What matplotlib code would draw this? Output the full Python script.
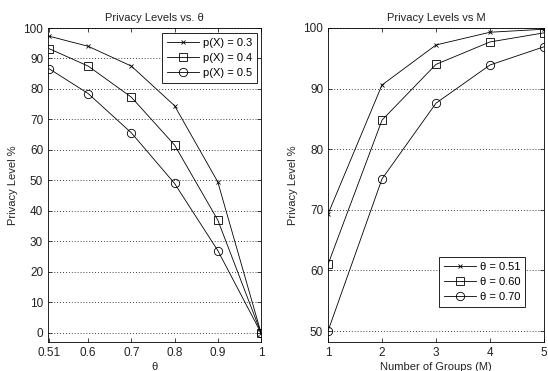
import matplotlib
matplotlib.use("Agg")
import matplotlib.pyplot as plt

plt.rcParams['font.family'] = ['Liberation Sans', 'DejaVu Sans']
plt.rcParams['font.size'] = 8

theta = [0.51, 0.6, 0.7, 0.8, 0.9, 1.0]
theta_ticks = ["0.51", "0.6", "0.7", "0.8", "0.9", "1"]
p03 = [97.3, 94.0, 87.5, 74.5, 49.5, 0.0]
p04 = [93.2, 87.5, 77.3, 61.6, 37.0, 0.0]
p05 = [86.6, 78.5, 65.6, 49.0, 27.0, 0.0]

groups = [1, 2, 3, 4, 5]
t051 = [69.3, 90.6, 97.2, 99.3, 99.8]
t060 = [61.0, 84.8, 94.0, 97.7, 99.2]
t070 = [50.0, 75.1, 87.6, 93.9, 96.9]

W, H = 548, 371
fig = plt.figure(figsize=(W/100, H/100), dpi=100)
ax1 = fig.add_axes([48/W, 1-342/H, (261-48)/W, (342-28)/H])
ax2 = fig.add_axes([328/W, 1-342/H, (544-328)/W, (342-28)/H])

lw = 0.6
ms = 6
for ax in (ax1, ax2):
    ax.tick_params(direction='in', length=3, top=True, right=True, width=0.6,
                   labelsize=8.5, colors='#222222')
    for s in ax.spines.values():
        s.set_linewidth(0.6)
    ax.yaxis.grid(True, linestyle=(0, (1, 2.5)), color='black', linewidth=0.6)

ax1.plot(theta, p03, color='black', lw=lw, marker='x', ms=3.5, mew=0.6, label='p(X) = 0.3')
ax1.plot(theta, p04, color='black', lw=lw, marker='s', ms=ms, mfc='none', mew=0.6, label='p(X) = 0.4')
ax1.plot(theta, p05, color='black', lw=lw, marker='o', ms=ms, mfc='none', mew=0.6, label='p(X) = 0.5')
ax1.set_xlim(0.507, 1.0)
ax1.set_ylim(-3, 100)
ax1.set_xticks(theta)
ax1.set_xticklabels(theta_ticks)
ax1.set_yticks(range(0, 101, 10))
ax1.set_title('Privacy Levels vs. θ', fontsize=8, pad=5, color='#222222')
ax1.set_xlabel('θ', labelpad=2, color='#222222')
ax1.set_ylabel('Privacy Level %', labelpad=4, color='#222222')
leg1 = ax1.legend(loc='upper right', fancybox=False, edgecolor='black', framealpha=1,
                  handlelength=2.9, borderpad=0.45, labelspacing=0.45, fontsize=8,
                  handletextpad=0.3, borderaxespad=0,
                  bbox_to_anchor=(1 - 4/213, 1 - 5/314))
leg1.get_frame().set_linewidth(0.6)

ax2.plot(groups, t051, color='black', lw=lw, marker='x', ms=3.5, mew=0.6, label='θ = 0.51')
ax2.plot(groups, t060, color='black', lw=lw, marker='s', ms=ms, mfc='none', mew=0.6, label='θ = 0.60')
ax2.plot(groups, t070, color='black', lw=lw, marker='o', ms=ms, mfc='none', mew=0.6, label='θ = 0.70')
ax2.set_xlim(1, 5)
ax2.set_ylim(48.2, 100)
ax2.set_xticks(groups)
ax2.set_yticks(range(50, 101, 10))
ax2.set_title('Privacy Levels vs M', fontsize=8, pad=5, color='#222222')
ax2.set_xlabel('Number of Groups (M)', labelpad=2, color='#222222')
ax2.set_ylabel('Privacy Level %', labelpad=4, color='#222222')
leg2 = ax2.legend(loc='lower right', fancybox=False, edgecolor='black', framealpha=1,
                  handlelength=2.9, borderpad=0.45, labelspacing=0.45, fontsize=8,
                  handletextpad=0.3, borderaxespad=0,
                  bbox_to_anchor=(1 - 19/216, 35/314))
leg2.get_frame().set_linewidth(0.6)

fig.savefig('out.png', dpi=100)
